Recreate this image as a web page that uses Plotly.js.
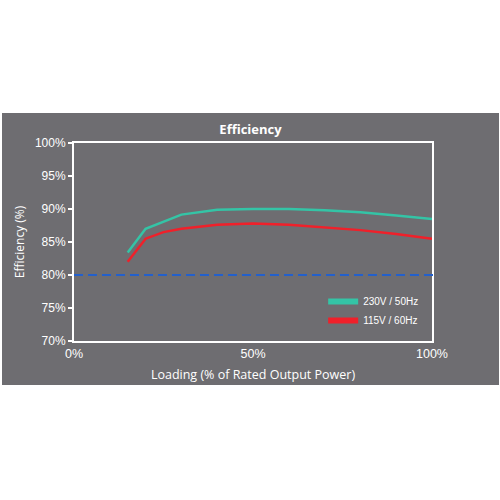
<!DOCTYPE html>
<html>
<head>
<meta charset="utf-8">
<script src="https://cdn.plot.ly/plotly-3.0.1.min.js"></script>
<style>
html,body{margin:0;padding:0;background:#ffffff;width:500px;height:500px;overflow:hidden;}
#chart{position:absolute;left:2px;top:113px;width:497px;height:272px;}
</style>
</head>
<body>
<div id="chart"></div>
<script>
// Data
const loadingGreen = [15, 20, 30, 40, 50, 60, 70, 80, 90, 100];
const eff230 = [83.4, 87.0, 89.15, 89.9, 90.0, 90.0, 89.8, 89.5, 89.0, 88.5];
const loadingRed = [15, 20, 25, 30, 40, 50, 60, 70, 80, 90, 100];
const eff115 = [82.0, 85.5, 86.5, 87.0, 87.6, 87.8, 87.6, 87.2, 86.8, 86.2, 85.5];
const seriesNames = ['230V / 50Hz', '115V / 60Hz'];
const threshold = 80;
const xTicks = [0, 50, 100];
const xTickLabels = ['0%', '50%', '100%'];
const yTicks = [70, 75, 80, 85, 90, 95, 100];
const yTickLabels = ['70%', '75%', '80%', '85%', '90%', '95%', '100%'];

const green = '#34c4a6';
const red = '#f0202a';
const blue = '#2360cc';

const traces = [
  {x: loadingGreen, y: eff230, type: 'scatter', mode: 'lines', line: {color: green, width: 2.5}, showlegend: false, hoverinfo: 'skip'},
  {x: loadingRed, y: eff115, type: 'scatter', mode: 'lines', line: {color: red, width: 2.5}, showlegend: false, hoverinfo: 'skip'},
  {x: [null], y: [null], type: 'scatter', mode: 'lines', name: seriesNames[0], line: {color: green, width: 6}},
  {x: [null], y: [null], type: 'scatter', mode: 'lines', name: seriesNames[1], line: {color: red, width: 6}}
];

const layout = {
  width: 497, height: 272,
  paper_bgcolor: '#6e6d71', plot_bgcolor: '#6e6d71',
  margin: {l: 72, r: 67, t: 29.5, b: 44},
  title: {text: '<b>Efficiency</b>', x: 0.5, xanchor: 'center', y: 0.94, yanchor: 'middle',
          font: {family: 'Open Sans', size: 13, color: '#ffffff'}},
  xaxis: {
    range: [0, 100], tickvals: xTicks, ticktext: xTickLabels,
    showgrid: false, zeroline: false, showline: true, linecolor: '#ffffff', linewidth: 2, mirror: true,
    ticks: '', tickfont: {family: 'Liberation Sans, Arial', size: 12.5, color: '#ffffff'},
    title: {text: 'Loading (% of Rated Output Power)', standoff: 10, font: {family: 'Open Sans', size: 12.5, color: '#ffffff'}}
  },
  yaxis: {
    range: [70, 100], tickvals: yTicks, ticktext: yTickLabels,
    showgrid: false, zeroline: false, showline: true, linecolor: '#ffffff', linewidth: 2, mirror: true,
    ticks: 'outside', ticklen: 4, tickwidth: 2, tickcolor: '#ffffff',
    tickfont: {family: 'Liberation Sans, Arial', size: 12, color: '#ffffff'},
    title: {text: 'Efficiency (%)', standoff: 8, font: {family: 'Open Sans', size: 12, color: '#ffffff'}}
  },
  shapes: [
    {type: 'line', xref: 'paper', yref: 'y', x0: 0, x1: 1.01, y0: threshold, y1: threshold,
     line: {color: blue, width: 2, dash: '9px,5px'}}
  ],
  legend: {x: 0.696, y: 0.273, xanchor: 'left', yanchor: 'top', bgcolor: 'rgba(0,0,0,0)',
           font: {family: 'Liberation Sans, Arial', size: 10, color: '#ffffff'}, tracegroupgap: 0}
};

Plotly.newPlot('chart', traces, layout, {displayModeBar: false, staticPlot: true});
</script>
</body>
</html>
